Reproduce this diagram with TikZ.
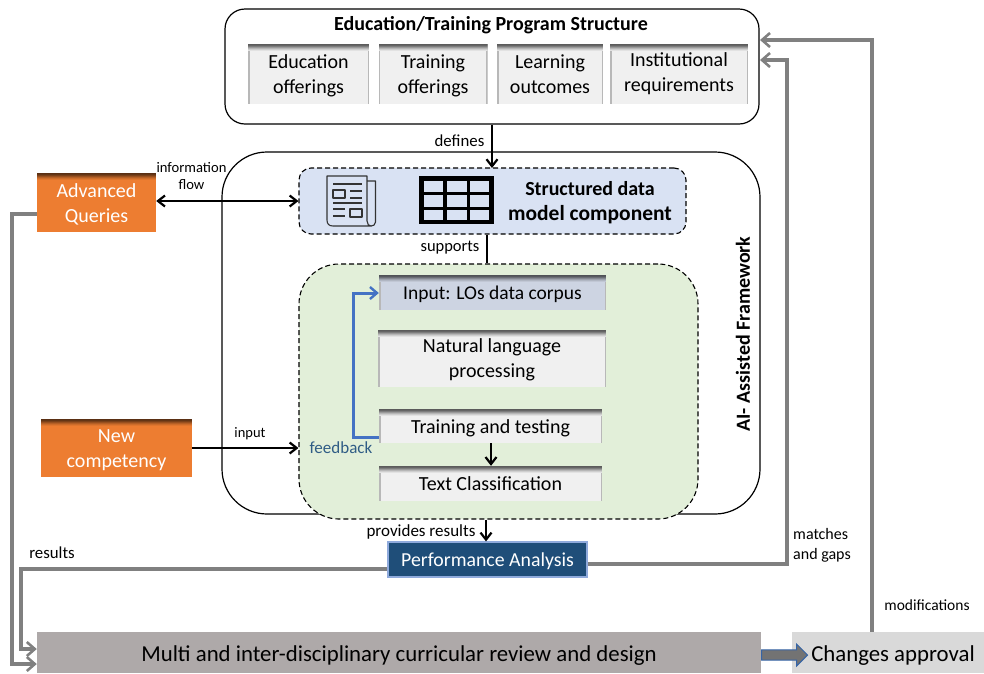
\documentclass[tikz,border=0pt]{standalone}
\usepackage{fontspec}
\setmainfont{Carlito}
\usetikzlibrary{arrows.meta,shapes.arrows,calc}
\definecolor{grayline}{HTML}{808080}
\definecolor{boxface}{HTML}{F0F0F0}
\definecolor{inputface}{HTML}{CDD4E2}
\definecolor{orangebox}{HTML}{ED7D31}
\definecolor{bluepanel}{HTML}{D9E2F3}
\definecolor{greenpanel}{HTML}{E2EFD9}
\definecolor{navybox}{HTML}{1F4E79}
\definecolor{fbblue}{HTML}{4472C4}
\definecolor{fbtext}{HTML}{2F5C85}
\definecolor{multiface}{HTML}{AEA9A9}
\definecolor{chgface}{HTML}{D9D9D9}
\newcommand{\dn}[2]{\vphantom{#2}\smash{\raisebox{-#1}{#2}}}
\newcommand{\bevelfill}[1]{%
  \foreach \i/\m in {0/62,1/58,2/48,3/36,4/24,5/14,6/6}{
    \fill[black!\m!#1] ($(path picture bounding box.north west)+(0,-\i pt)$) rectangle ($(path picture bounding box.north east)+(0,-\i pt-1.1pt)$);
  }}
\newcommand{\bevelside}{%
  \fill[black!28] (path picture bounding box.north west) rectangle ($(path picture bounding box.south west)+(1.5pt,0)$);
  \fill[black!28] (path picture bounding box.north east) rectangle ($(path picture bounding box.south east)+(-1.5pt,0)$);}
\tikzset{
  x=1pt,y=-1pt,
  lbl/.style={align=center,inner sep=0pt},
  facebox/.style={rectangle,fill=boxface,align=center,text=black,inner sep=0pt,
    font=\fontsize{20}{25}\selectfont,
    path picture={\bevelside\bevelfill{boxface}}},
  inputbox/.style={rectangle,fill=inputface,align=center,text=black,inner sep=0pt,
    font=\fontsize{19.5}{25}\selectfont,
    path picture={\bevelside\bevelfill{inputface}}},
  orangenode/.style={rectangle,fill=orangebox,text=white,align=center,inner sep=0pt,
    font=\fontsize{20}{25}\selectfont,
    path picture={\bevelfill{orangebox}}},
  blk/.style={draw=black,line width=2.4pt,-{Straight Barb[length=7pt,width=11pt,line width=2.2pt]}},
  gry/.style={draw=grayline,line width=3.2pt,-{Straight Barb[length=8pt,width=14pt,line width=2.6pt]}},
  panel/.style={rectangle,draw=black,line width=1.1pt,dash pattern=on 5pt off 3pt},
}
\begin{document}
\begin{tikzpicture}
\useasboundingbox (0,0) rectangle (984,673);

% framework
\node[rectangle,draw=black,line width=1.2pt,rounded corners=45pt,minimum width=538pt,minimum height=362pt,inner sep=0pt] (frame) at (491,333) {};
\node[rotate=90,font=\bfseries\fontsize{20}{22}\selectfont,inner sep=0pt] (ailabel) at (743,334) {AI- Assisted Framework};

% top structure box
\node[rectangle,draw=black,line width=1.2pt,rounded corners=20pt,minimum width=534pt,minimum height=115pt,inner sep=0pt] (top) at (492,66.5) {};
\node[font=\bfseries\fontsize{20}{22}\selectfont,inner sep=0pt] (toptitle) at (491,25) {Education/Training Program Structure};
\node[facebox,minimum width=121pt,minimum height=60pt] (edu) at (308.5,74) {\dn{1.5pt}{Education}\\\dn{1.5pt}{offerings}};
\node[facebox,minimum width=109pt,minimum height=60pt] (tra) at (433,74) {\dn{1.5pt}{Training}\\\dn{1.5pt}{offerings}};
\node[facebox,minimum width=106pt,minimum height=60pt] (lea) at (550,74) {Learning\\outcomes};
\node[facebox,minimum width=138pt,minimum height=60pt] (ins) at (679,74) {Institutional\\requirements};

% blue panel
\node[panel,fill=bluepanel,rounded corners=12pt,minimum width=387pt,minimum height=66pt,inner sep=0pt] (blue) at (492.5,201) {};
\node[font=\bfseries\fontsize{21.5}{25}\selectfont,align=center,inner sep=0pt] (bluetxt) at (590,203) {{\fontsize{20}{25}\selectfont Structured data}\\model component};

% news icon
\begin{scope}[line join=round]
\draw[black!80,line width=1.1pt] (327,176) -- (367,176) -- (367,221) .. controls (367,224) and (369,226) .. (371,226) -- (333,226) .. controls (329,226) and (327,224) .. (327,220) -- cycle;
\draw[black!80,line width=1.1pt] (367,181) -- (375.5,181) -- (375.5,222) .. controls (375.5,225) and (373,226) .. (371,226);
\draw[black!80,line width=1.1pt] (333,184) -- (362,184) (333,203) -- (362,203) (350,191) -- (362,191) (350,198) -- (362,198) (333,209) -- (345,209) (333,216) -- (345,216);
\draw[black!80,line width=1.1pt] (333,190) rectangle (345,198) (350,209) rectangle (362,217);
\end{scope}
% table icon
\fill[black] (419,176) rectangle (494,224);
\foreach \xa/\wa in {424/19,447/20,470/19}{
  \foreach \ya/\ha in {181/11,195/12,210/9.5}{
    \fill[bluepanel] (\xa,\ya) rectangle ++(\wa,\ha);
  }
}

% green panel
\node[panel,fill=greenpanel,rounded corners=40pt,minimum width=399pt,minimum height=255pt,inner sep=0pt] (green) at (498.5,391.5) {};
\node[inputbox,minimum width=227pt,minimum height=35pt] (inp) at (492.5,292.5) {\dn{2pt}{Input: LOs data corpus}};
\node[facebox,minimum width=228pt,minimum height=57pt] (nlp) at (492,358.5) {\dn{1.5pt}{Natural language}\\\dn{1.5pt}{processing}};
\node[facebox,minimum width=223pt,minimum height=34pt] (trn) at (490.5,426) {\dn{2pt}{Training and testing}};
\node[facebox,minimum width=223pt,minimum height=35pt] (txt) at (490.5,483.5) {Text Classification};
\node[font=\fontsize{17}{18}\selectfont,text=fbtext,inner sep=0pt] (fb) at (341,448) {feedback};

% left nodes
\node[orangenode,minimum width=119pt,minimum height=59pt] (adv) at (96.5,202.5) {\dn{2pt}{Advanced}\\\dn{2pt}{Queries}};
\node[orangenode,minimum width=151pt,minimum height=58pt] (new) at (116.5,448) {\dn{2pt}{New}\\\dn{2pt}{competency}};

% performance
\node[rectangle,fill=navybox,draw=fbblue!60!white,line width=1.2pt,text=white,minimum width=199pt,minimum height=35pt,inner sep=0pt,font=\fontsize{19.8}{22}\selectfont] (perf) at (487.5,559.5) {\dn{1.5pt}{Performance Analysis}};

% bottom
\node[rectangle,fill=multiface,minimum width=724pt,minimum height=41pt,inner sep=0pt,font=\fontsize{22.8}{25}\selectfont] (multi) at (399,652.5) {\dn{3.5pt}{Multi and inter-disciplinary curricular review and design}};
\node[rectangle,fill=chgface,minimum width=192pt,minimum height=41pt,inner sep=0pt,font=\fontsize{22.8}{25}\selectfont] (chg) at (888,652.5) {\hspace*{10pt}\dn{3.5pt}{Changes approval}};

% connectors
\draw[blk] (top.south -| 492,0) -- (492,168);
\draw[blk,{Straight Barb[length=7pt,width=11pt,line width=2.2pt]}-{Straight Barb[length=7pt,width=11pt,line width=2.2pt]}] (adv.east |- blue.west) -- (blue.west);
\draw[draw=black,line width=2.4pt] (blue.south -| 487,0) -- (green.north -| 487,0);
\draw[blk] (new.east) -- (new.east -| green.west);
\draw[blk] (trn.south -| 491,0) -- (txt.north -| 491,0);
\draw[blk] (green.south -| 486,0) -- (perf.north -| 486,0);
\draw[draw=fbblue,line width=3pt,-{Straight Barb[length=7pt,width=12pt,line width=2.4pt]}] (trn.west |- 0,437) -| (353,293) -- (inp.west |- 0,293);

\coordinate (tip1) at (760,40);
\coordinate (tip2) at (760,60);
\draw[gry] (chg.north -| 872,0) -- (872,40) -- (tip1);
\draw[gry] (perf.east |- 0,564) -- (787,564) -- (787,60) -- (tip2);
\draw[gry] (adv.west |- 0,214) -- (12,214) -- (12,664) -- (multi.west |- 0,664);
\draw[gry] (perf.west |- 0,569) -- (21,569) -- (21,649) -- (multi.west |- 0,649);

\node[single arrow,draw=fbblue!60!navybox,line width=1pt,fill=black!55,minimum width=22pt,single arrow head extend=3.5pt,single arrow tip angle=90,minimum height=46pt,inner sep=2.5pt] (bigarrow) at (782,655) {};

% labels
\node[lbl,font=\fontsize{16.8}{18}\selectfont] (l1) at (459.5,141) {defines};
\node[lbl,font=\fontsize{14.6}{17}\selectfont] (l2) at (191.5,176) {information\\flow};
\node[lbl,font=\fontsize{16.5}{18}\selectfont] (l3) at (450,248) {supports};
\node[lbl,font=\fontsize{14.5}{17}\selectfont] (l4) at (250,434) {input};
\node[lbl,font=\fontsize{17}{18}\selectfont] (l5) at (421,532) {provides results};
\node[lbl,font=\fontsize{16.8}{18}\selectfont] (l6) at (52,553) {results};
\node[lbl,font=\fontsize{16}{20}\selectfont,align=left] (l7) at (822,545) {matches\\and gaps};
\node[lbl,font=\fontsize{15.5}{18}\selectfont] (l8) at (927,605) {modifications};
\end{tikzpicture}
\end{document}
